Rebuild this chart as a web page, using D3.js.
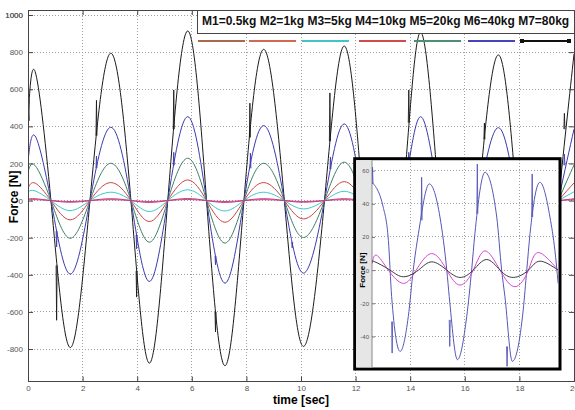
<!DOCTYPE html>
<html>
<head>
<meta charset="utf-8">
<script src="https://cdn.jsdelivr.net/npm/d3@7"></script>
<style>
  body { margin: 0; background: #fff; }
  svg { display: block; font-family: Arial, "Liberation Sans", sans-serif; }
  .grid line { stroke: #a0a0a0; stroke-dasharray: 1,2; shape-rendering: crispEdges; }
  .curve { fill: none; stroke-width: 1; }
</style>
</head>
<body>
<svg width="575" height="410"></svg>
<script>
// ---- main plot data: key times (start, peaks, troughs, zero crossings) ----
var time = [0, 0.26, 0.84, 1.54, 2.27, 3.03, 3.77, 4.44, 5.12, 5.85, 6.54, 7.22, 7.91, 8.64,
            9.39, 10.09, 10.86, 11.58, 12.25, 12.9, 13.73, 14.38, 15.05, 15.75, 16.5, 17.23,
            17.9, 18.6, 19.43, 20];
var m1 = [4, 5, 0, -5, 0, 5, 0, -5, 0, 6, 0, -5, 0, 5, 0, -5, 0, 5, 0, -5, 0, 6, 0, -5, 0, 5, 0, -5, 0, 5];
var m2 = [8, 10, 0, -9, 0, 10, 0, -10, 0, 11, 0, -10, 0, 10, 0, -9, 0, 10, 0, -10, 0, 11, 0, -10, 0, 10, 0, -9, 0, 10];
var m3 = [48, 52, 0, -54, 0, 45, 0, -59, 0, 58, 0, -56, 0, 45, 0, -45, 0, 50, 0, -50, 0, 55, 0, -52, 0, 47, 0, -50, 0, 47];
var m4 = [67, 94, 0, -104, 0, 97, 0, -113, 0, 111, 0, -117, 0, 97, 0, -99, 0, 102, 0, -105, 0, 110, 0, -108, 0, 98, 0, -103, 0, 95];
var m5 = [156, 189, 0, -203, 0, 201, 0, -224, 0, 228, 0, -229, 0, 201, 0, -199, 0, 207, 0, -210, 0, 225, 0, -215, 0, 200, 0, -205, 0, 192];
var m6 = [210, 348, 0, -396, 0, 395, 0, -436, 0, 452, 0, -445, 0, 404, 0, -391, 0, 413, 0, -420, 0, 452, 0, -430, 0, 393, 0, -410, 0, 385];
var m7 = [430, 695, 0, -792, 0, 794, 0, -876, 0, 914, 0, -890, 0, 815, 0, -786, 0, 833, 0, -850, 0, 907, 0, -860, 0, 785, 0, -820, 0, 790];

// spikes: [time, from, to]
var spikesM6 = [[1.03, -165, -250], [2.49, 175, 240], [3.96, -185, -260], [5.32, 190, 260], [6.85, -300, -346],
                [8.13, 174, 256], [9.66, -224, -255], [11.06, 170, 235], [13.93, 200, 260], [16.7, 170, 230], [19.63, 190, 250]];
var spikesM7 = [[0.01, 430, 540], [1.03, -350, -645], [2.49, 350, 540], [3.96, -380, -520], [5.32, 385, 596],
                [6.85, -600, -708], [8.11, 340, 525], [11.04, 320, 580], [13.93, 420, 596], [16.7, 330, 418], [19.63, 385, 470]];

var names = ["M1=0.5kg", "M2=1kg", "M3=5kg", "M4=10kg", "M5=20kg", "M6=40kg", "M7=80kg"];
var legendColors = ["#a8694d", "#cf6a55", "#45c4c4", "#d24a4a", "#4d8f72", "#4646bc", "#111111"];
var lineColors = ["#b8507a", "#cc3388", "#3cc8cc", "#cc4444", "#3f7f62", "#3b3bab", "#1a1a1a"];
var legendX = [198, 249, 302, 359, 414, 468, 522];

var xTicks = d3.range(0, 21, 2);
var yTicks = d3.range(-800, 1001, 200);

// ---- inset data ----
var insetBlueT = [12.6, 13.01, 13.2, 13.32, 13.63, 13.93, 14.11, 14.3, 14.7, 15.09, 15.34, 15.43, 15.73, 16.07,
                  16.25, 16.37, 16.74, 17.17, 17.35, 17.47, 17.74, 18.14, 18.27, 18.39, 18.75, 19.12, 19.3, 19.42];
var insetBlue = [53, 38, 18, -16, -49, -28, 0, 22, 52, 32, 0, -16, -54, -28, 0, 22, 59, 32, 0, -16, -55, -24, 0, 22, 53, 32, 12, -8];
var insetBlueSpikes = [[12.6, 52, 62], [13.32, -31, -50], [14.4, 30, 56], [15.43, -30, -46], [16.44, 34, 64],
                       [17.53, -46, -58], [18.45, 32, 58]];
var insetPinkT = [12.6, 12.77, 13.2, 13.75, 14.22, 14.79, 15.34, 15.82, 16.31, 16.74, 17.29, 17.84, 18.33, 18.69, 19.42];
var insetPink = [4, 9, 0, -8, 0, 10, 0, -9, 0, 11.6, 0, -10, 0, 10.6, 0];
var insetBlackT = [12.6, 12.68, 13.26, 13.75, 14.3, 14.79, 15.34, 15.82, 16.31, 16.8, 17.29, 17.78, 18.33, 18.75, 19.42];
var insetBlack = [4.5, 5.2, 0, -4, 0, 5, 0, -4.4, 0, 6.4, 0, -4.4, 0, 5.4, 0];
var insetYTicks = [-40, -20, 0, 20, 40, 60];
var insetXTicks = [14, 16, 18];

// ---- main axes ----
var svg = d3.select("svg");
var plot = { left: 28, right: 574, top: 10, bottom: 381.5 };
var x = d3.scaleLinear().domain([0, 20]).range([plot.left, plot.right]);
var y = d3.scaleLinear().domain([-975, 1027]).range([plot.bottom, plot.top]);

var grid = svg.append("g").attr("class", "grid");
grid.selectAll(".gx").data(xTicks.slice(1, -1)).enter().append("line")
    .attr("x1", function (d) { return x(d); }).attr("x2", function (d) { return x(d); })
    .attr("y1", plot.top).attr("y2", plot.bottom);
grid.selectAll(".gy").data(yTicks).enter().append("line")
    .attr("x1", plot.left).attr("x2", plot.right)
    .attr("y1", function (d) { return y(d); }).attr("y2", function (d) { return y(d); });

svg.append("defs").append("clipPath").attr("id", "clipMain")
    .append("rect").attr("x", plot.left).attr("y", plot.top)
    .attr("width", plot.right - plot.left).attr("height", plot.bottom - plot.top);

var curves = svg.append("g").attr("clip-path", "url(#clipMain)");
var line = d3.line().curve(d3.curveNatural)
    .x(function (d) { return x(d[0]); }).y(function (d) { return y(d[1]); });

var series = [m1, m2, m3, m4, m5, m6, m7];
// heavy masses first, light ones on top
[6, 5, 4, 3, 2, 0, 1].forEach(function (k) {
    curves.append("path").attr("class", "curve")
        .attr("stroke", lineColors[k])
        .attr("stroke-width", k < 2 ? 1.6 : 1)
        .attr("d", line(time.map(function (t, i) { return [t, series[k][i]]; })));
});

function drawSpikes(g, data, sx, sy, color) {
    g.selectAll(null).data(data).enter().append("path")
        .attr("fill", "none").attr("stroke", color).attr("stroke-width", 0.9)
        .attr("d", function (d) {
            return "M" + sx(d[0]) + "," + sy(d[1]) + "L" + (sx(d[0]) + 0.5) + "," + sy(d[2]) +
                   "L" + (sx(d[0]) + 1) + "," + sy(d[1]);
        });
}
drawSpikes(curves, spikesM6, x, y, lineColors[5]);
drawSpikes(curves, spikesM7, x, y, lineColors[6]);

// axes with inward ticks
var axB = svg.append("g").attr("transform", "translate(0," + plot.bottom + ")")
    .call(d3.axisBottom(x).tickValues(xTicks).tickSize(-5).tickPadding(4));
var axL = svg.append("g").attr("transform", "translate(" + plot.left + ",0)")
    .call(d3.axisLeft(y).tickValues(yTicks.concat([1000])).tickSize(-5).tickPadding(5)
        .tickFormat(function (d) { return d < 0 ? "-" + (-d) : d; }));
var axT = svg.append("g").attr("transform", "translate(0," + plot.top + ")")
    .call(d3.axisTop(x).tickValues(xTicks).tickSize(-5).tickFormat(""));
var axR = svg.append("g").attr("transform", "translate(" + plot.right + ",0)")
    .call(d3.axisRight(y).tickValues(yTicks).tickSize(-5).tickFormat(""));
[axB, axL, axT, axR].forEach(function (a) {
    a.select(".domain").remove();
    a.attr("font-size", 8).attr("font-family", "Arial, 'Liberation Sans', sans-serif");
    a.selectAll("line").attr("stroke", "#444");
    a.selectAll("text").attr("fill", "#555");
});

svg.append("rect").attr("x", plot.left).attr("y", plot.top)
    .attr("width", plot.right - plot.left).attr("height", plot.bottom - plot.top)
    .attr("fill", "none").attr("stroke", "#444").attr("shape-rendering", "crispEdges");

svg.append("text").attr("transform", "translate(18," + y(20) + ") rotate(-90)")
    .attr("text-anchor", "middle").attr("font-size", 12).attr("font-weight", "bold")
    .text("Force [N]");
svg.append("text").attr("x", (plot.left + plot.right) / 2).attr("y", 404)
    .attr("text-anchor", "middle").attr("font-size", 12).attr("font-weight", "bold")
    .text("time [sec]");

// ---- legend ----
svg.append("rect").attr("x", 197.5).attr("y", plot.top).attr("width", plot.right - 197.5).attr("height", 23.5)
    .attr("fill", "#fff").attr("stroke", "#444").attr("shape-rendering", "crispEdges");
svg.append("text").attr("x", 202).attr("y", 24.7).attr("font-size", 12).attr("font-weight", "bold")
    .attr("fill", "#111").text(names.join(" "));
var leg = svg.append("g");
leg.selectAll("line").data(names).enter().append("line")
    .attr("x1", function (d, i) { return legendX[i]; })
    .attr("x2", function (d, i) { return legendX[i] + 47; })
    .attr("y1", 41).attr("y2", 41)
    .attr("stroke", function (d, i) { return legendColors[i]; }).attr("stroke-width", 2);
leg.selectAll("rect").data([legendX[6], legendX[6] + 47]).enter().append("rect")
    .attr("x", function (d) { return d - 2; }).attr("y", 39).attr("width", 4).attr("height", 4)
    .attr("fill", "#111");

// ---- inset ----
var ib = { left: 356, right: 558.7, top: 160.2, bottom: 367.3, axis: 372 };
svg.append("rect").attr("x", 354.7).attr("y", 158.7).attr("width", 205.3).attr("height", 210.3)
    .attr("fill", "#fff").attr("stroke", "#000").attr("stroke-width", 3);
svg.append("rect").attr("x", ib.left).attr("y", ib.top).attr("width", ib.axis - ib.left)
    .attr("height", ib.bottom - ib.top).attr("fill", "#e6e6e6");

var ix = d3.scaleLinear().domain([12.6, 19.44]).range([ib.axis, ib.right]);
var iy = d3.scaleLinear().domain([-58.6, 66.3]).range([ib.bottom, ib.top]);

var igrid = svg.append("g").attr("class", "grid");
igrid.selectAll(".ix").data(insetXTicks).enter().append("line")
    .attr("x1", function (d) { return ix(d); }).attr("x2", function (d) { return ix(d); })
    .attr("y1", ib.top).attr("y2", ib.bottom);
igrid.selectAll(".iy").data(insetYTicks).enter().append("line")
    .attr("x1", ib.axis).attr("x2", ib.right)
    .attr("y1", function (d) { return iy(d); }).attr("y2", function (d) { return iy(d); });

svg.append("line").attr("x1", ib.axis).attr("x2", ib.axis).attr("y1", ib.top).attr("y2", ib.bottom)
    .attr("stroke", "#888");
var iaxis = svg.append("g").attr("transform", "translate(" + ib.axis + ",0)")
    .call(d3.axisLeft(iy).tickValues(insetYTicks).tickSize(-3).tickPadding(3)
        .tickFormat(function (d) { return d < 0 ? "-" + (-d) : d; }));
iaxis.select(".domain").remove();
iaxis.attr("font-size", 6).attr("font-family", "Arial, 'Liberation Sans', sans-serif");
iaxis.selectAll("line").attr("stroke", "#777");
iaxis.selectAll("text").attr("fill", "#555");

svg.append("text").attr("transform", "translate(365," + iy(0) + ") rotate(-90)")
    .attr("text-anchor", "middle").attr("font-size", 8).attr("font-weight", "bold")
    .text("Force [N]");

svg.append("defs").append("clipPath").attr("id", "clipInset")
    .append("rect").attr("x", ib.axis).attr("y", ib.top)
    .attr("width", ib.right - ib.axis).attr("height", ib.bottom - ib.top);
var icurves = svg.append("g").attr("clip-path", "url(#clipInset)");

var iline = d3.line().curve(d3.curveNatural)
    .x(function (d) { return ix(d[0]); }).y(function (d) { return iy(d[1]); });
var ilineM = d3.line().curve(d3.curveMonotoneX)
    .x(function (d) { return ix(d[0]); }).y(function (d) { return iy(d[1]); });

icurves.append("path").attr("class", "curve").attr("stroke", "#5656b6")
    .attr("d", ilineM(insetBlueT.map(function (t, i) { return [t, insetBlue[i]]; })));
drawSpikes(icurves, insetBlueSpikes, ix, iy, "#5656b6");
icurves.append("path").attr("class", "curve").attr("stroke", "#d34ad3")
    .attr("d", iline(insetPinkT.map(function (t, i) { return [t, insetPink[i]]; })));
icurves.append("path").attr("class", "curve").attr("stroke", "#3a3a3a")
    .attr("d", iline(insetBlackT.map(function (t, i) { return [t, insetBlack[i]]; })));
</script>
</body>
</html>
